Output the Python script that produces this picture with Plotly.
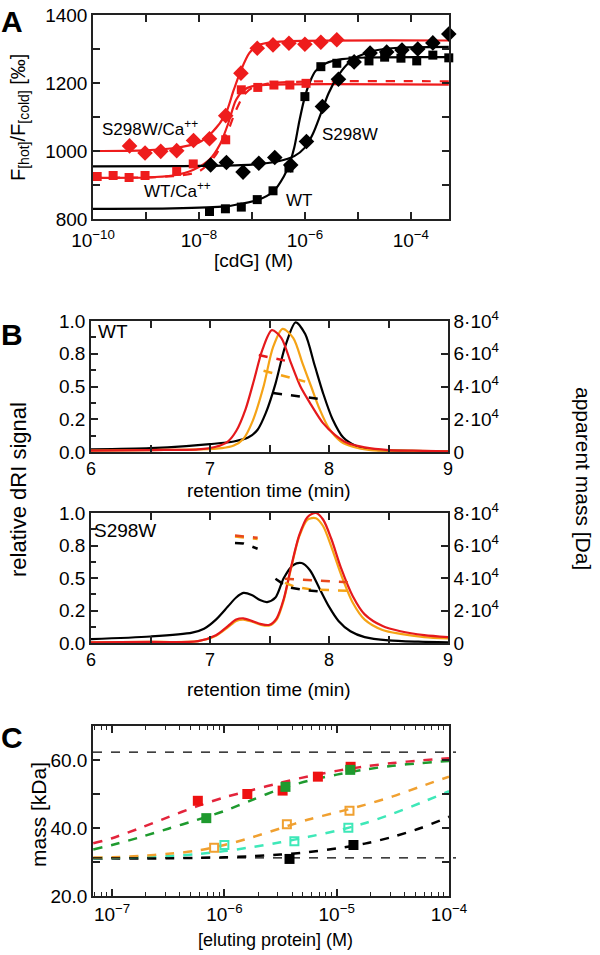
import plotly.graph_objects as go

W, H = 600, 955
def fx(p): return p / W
def fy(p): return 1 - p / H

FONT = "Liberation Sans, Arial, Helvetica, sans-serif"
RED_A = "#ee1c1c"
RED_B = "#e5191c"
ORANGE_B = "#f5a316"
RED_C = "#e3243b"
GREEN_C = "#1e9a2e"
ORANGE_C = "#f0a030"
CYAN_C = "#3ee8b8"

# ---------------- Panel A data ----------------
s298w_ca_conc = [4.9e-10, 9.6e-10, 1.9e-9, 3.8e-9, 7.9e-9, 1.58e-8, 3.2e-8, 6.2e-8, 1.26e-7, 2.5e-7, 5.0e-7, 1.0e-6, 2.0e-6, 4.0e-6]
s298w_ca_val = [1015, 994, 999, 1001, 1031, 1036, 1104, 1229, 1302, 1312, 1317, 1314, 1320, 1327]
wt_ca_conc = [1.2e-10, 2.4e-10, 4.8e-10, 9.6e-10, 3.8e-9, 7.8e-9, 3.2e-8, 6.3e-8, 1.29e-7, 2.6e-7, 5.2e-7, 1.05e-6]
wt_ca_val = [925, 928, 922, 928, 940, 962, 1033, 1180, 1187, 1194, 1194, 1199]
s298w_conc = [1.66e-8, 3.3e-8, 6.8e-8, 1.35e-7, 2.7e-7, 5.4e-7, 1.07e-6, 2.14e-6, 4.3e-6, 8.5e-6, 1.7e-5, 3.5e-5, 6.8e-5, 1.35e-4, 2.6e-4, 5.2e-4]
s298w_val = [959, 966, 938, 964, 981, 959, 1028, 1131, 1211, 1262, 1288, 1291, 1297, 1300, 1318, 1344]
wt_conc = [1.58e-8, 3.16e-8, 6.3e-8, 1.26e-7, 2.5e-7, 5.0e-7, 1.0e-6, 2.0e-6, 4.0e-6, 8.1e-6, 1.62e-5, 3.2e-5, 6.5e-5, 1.29e-4, 2.6e-4, 5.2e-4]
wt_val = [822, 830, 835, 857, 883, 950, 1160, 1248, 1258, 1265, 1265, 1276, 1273, 1265, 1282, 1274]

# fitted curves
fit_s298w_ca_x = [1e-10, 1e-9, 3.2e-9, 1e-8, 1.78e-8, 3.16e-8, 4.5e-8, 6.3e-8, 8.9e-8, 1.26e-7, 2.5e-7, 1e-6, 5.2e-4]
fit_s298w_ca_y = [1000, 1002, 1008, 1025, 1055, 1108, 1178, 1240, 1288, 1310, 1320, 1324, 1325]
fit_wt_ca_x = [1e-10, 1e-9, 3.2e-9, 7.9e-9, 1.58e-8, 2.5e-8, 3.55e-8, 5.0e-8, 7.1e-8, 1e-7, 2.5e-7, 5.2e-4]
fit_wt_ca_y = [921, 922, 928, 945, 975, 1020, 1080, 1150, 1180, 1190, 1195, 1195]
fit_wt_ca2_x = [1e-10, 3.2e-9, 1e-8, 2.0e-8, 3.55e-8, 5.0e-8, 7.1e-8, 1e-7, 2.0e-7, 1e-6, 5.2e-4]
fit_wt_ca2_y = [921, 926, 940, 985, 1060, 1120, 1165, 1185, 1198, 1204, 1205]
fit_wt_x = [1e-10, 3.2e-9, 3.16e-8, 6.3e-8, 1.26e-7, 2.5e-7, 4.0e-7, 5.2e-7, 6.3e-7, 7.9e-7, 1e-6, 1.26e-6, 1.58e-6, 2.5e-6, 5.0e-6, 1.58e-5, 5.2e-4]
fit_wt_y = [830, 831, 837, 845, 855, 880, 925, 965, 1010, 1090, 1160, 1205, 1235, 1258, 1270, 1275, 1276]
fit_s298w_x = [1e-10, 1e-8, 1e-7, 3.16e-7, 6.3e-7, 1e-6, 1.41e-6, 2.0e-6, 2.8e-6, 4.0e-6, 6.3e-6, 1e-5, 2.0e-5, 5.0e-5, 5.2e-4]
fit_s298w_y = [955, 956, 960, 970, 985, 1010, 1050, 1110, 1170, 1215, 1255, 1278, 1295, 1303, 1306]

# ---------------- Panel B data ----------------
wt_black_t = [6.0, 6.5, 6.8, 7.0, 7.2, 7.32, 7.4, 7.47, 7.55, 7.63, 7.72, 7.8, 7.88, 7.95, 8.03, 8.12, 8.22, 8.35, 8.6, 9.0]
wt_black_v = [0.02, 0.03, 0.045, 0.06, 0.08, 0.11, 0.17, 0.30, 0.52, 0.80, 0.99, 0.90, 0.66, 0.45, 0.25, 0.11, 0.05, 0.02, 0.01, 0.005]
wt_red_t = [6.0, 6.5, 6.9, 7.05, 7.15, 7.22, 7.3, 7.37, 7.44, 7.52, 7.6, 7.68, 7.76, 7.85, 7.95, 8.05, 8.15, 8.3, 8.5, 8.7, 9.0]
wt_red_v = [0.01, 0.015, 0.02, 0.04, 0.08, 0.16, 0.33, 0.55, 0.78, 0.93, 0.87, 0.68, 0.50, 0.36, 0.22, 0.13, 0.07, 0.035, 0.015, 0.01, 0.005]
wt_orange_t = [6.0, 6.5, 6.9, 7.1, 7.2, 7.28, 7.36, 7.45, 7.53, 7.61, 7.7, 7.78, 7.85, 7.92, 8.0, 8.1, 8.2, 8.35, 8.6, 9.0]
wt_orange_v = [0.01, 0.015, 0.02, 0.03, 0.05, 0.10, 0.24, 0.50, 0.80, 0.94, 0.87, 0.67, 0.50, 0.33, 0.18, 0.08, 0.04, 0.015, 0.01, 0.005]
wt_red_mass_t = [7.41, 7.52, 7.63]
wt_red_mass = [59200, 57500, 55800]
wt_orange_mass_t = [7.45, 7.62, 7.80]
wt_orange_mass = [49600, 46500, 43000]
wt_black_mass_t = [7.53, 7.72, 7.92]
wt_black_mass = [36000, 34200, 32400]

s_black_t = [6.0, 6.5, 6.85, 6.95, 7.05, 7.15, 7.22, 7.28, 7.35, 7.42, 7.48, 7.55, 7.62, 7.7, 7.77, 7.84, 7.92, 8.0, 8.08, 8.18, 8.3, 8.5, 8.75, 9.0]
s_black_v = [0.03, 0.05, 0.08, 0.11, 0.18, 0.28, 0.35, 0.385, 0.37, 0.33, 0.315, 0.35, 0.50, 0.60, 0.615, 0.56, 0.42, 0.28, 0.17, 0.09, 0.045, 0.02, 0.01, 0.005]
s_red_t = [6.0, 6.5, 6.9, 7.05, 7.15, 7.22, 7.28, 7.35, 7.43, 7.5, 7.56, 7.62, 7.68, 7.75, 7.82, 7.89, 7.95, 8.02, 8.1, 8.2, 8.3, 8.45, 8.6, 8.8, 9.0]
s_red_v = [0.005, 0.008, 0.015, 0.06, 0.13, 0.18, 0.19, 0.17, 0.145, 0.14, 0.19, 0.34, 0.58, 0.83, 0.97, 1.0, 0.95, 0.80, 0.58, 0.36, 0.22, 0.13, 0.09, 0.06, 0.045]
s_orange_v = [0.005, 0.008, 0.015, 0.055, 0.12, 0.17, 0.18, 0.165, 0.14, 0.135, 0.18, 0.33, 0.57, 0.82, 0.95, 0.96, 0.90, 0.74, 0.53, 0.31, 0.18, 0.10, 0.07, 0.045, 0.035]
s_up_orange_t = [7.21, 7.40]
s_up_orange_mass = [65500, 64000]
s_up_red_t = [7.21, 7.40]
s_up_red_mass = [66200, 64700]
s_up_black_t = [7.21, 7.28, 7.33, 7.40]
s_up_black_mass = [61500, 61300, 60000, 58000]
s_lo_red_t = [7.63, 7.9, 8.2]
s_lo_red_mass = [39500, 38500, 37200]
s_lo_orange_t = [7.63, 7.72, 7.85, 8.2]
s_lo_orange_mass = [37000, 34500, 33000, 32000]
s_lo_black_t = [7.55, 7.63, None, 7.68, 7.8, 7.95]
s_lo_black_mass = [39500, 35500, None, 34000, 32500, 31500]

# ---------------- Panel C data ----------------
c_red_conc = [5.8e-7, 1.6e-6, 3.3e-6, 6.8e-6, 1.33e-5]
c_red_mass = [48.0, 50.0, 51.0, 55.1, 58.0]
c_green_conc = [6.9e-7, 3.5e-6, 1.32e-5]
c_green_mass = [42.9, 52.1, 57.1]
c_orange_conc = [8.1e-7, 3.6e-6, 1.3e-5]
c_orange_mass = [34.2, 41.1, 45.1]
c_cyan_conc = [1.0e-6, 4.2e-6, 1.27e-5]
c_cyan_mass = [35.0, 36.1, 40.1]
c_black_conc = [3.8e-6, 1.41e-5]
c_black_mass = [30.9, 35.0]
c_fit_conc = [6.8e-8, 1e-7, 1.78e-7, 3.16e-7, 5.6e-7, 1e-6, 1.78e-6, 3.16e-6, 5.6e-6, 1e-5, 1.78e-5, 3.16e-5, 5.6e-5, 1e-4]
c_fit_red = [35.5, 37.0, 40.0, 43.2, 46.3, 49.0, 51.2, 53.3, 55.2, 56.8, 58.1, 59.1, 59.9, 60.5]
c_fit_green = [33.7, 35.0, 37.3, 39.8, 42.3, 45.0, 48.3, 51.5, 53.9, 55.7, 57.2, 58.3, 59.1, 59.7]
c_fit_orange = [31.3, 31.4, 31.8, 32.4, 33.3, 35.0, 37.3, 39.9, 42.5, 44.6, 46.8, 49.3, 52.2, 55.1]
c_fit_cyan = [31.1, 31.2, 31.4, 31.7, 32.3, 33.2, 34.4, 35.8, 37.4, 39.2, 41.4, 44.2, 47.4, 50.8]
c_fit_black = [31.0, 31.0, 31.0, 31.1, 31.2, 31.4, 31.7, 32.2, 32.9, 34.0, 35.4, 37.4, 40.0, 43.3]
dimer_mass = 62.3
monomer_mass = 31.2

fig = go.Figure()

def line(x, y, color, xa, ya, dash="solid", width=2.2, shape="spline"):
    fig.add_trace(go.Scatter(x=x, y=y, mode="lines", xaxis=xa, yaxis=ya,
                             line=dict(color=color, width=width, dash=dash, shape=shape, smoothing=0.8),
                             showlegend=False, hoverinfo="skip", connectgaps=False))

def pts(x, y, color, xa, ya, symbol, size, open_=False):
    if open_:
        m = dict(symbol=symbol, size=size, color=color, line=dict(color=color, width=2))
    else:
        m = dict(symbol=symbol, size=size, color=color, line=dict(width=0))
    fig.add_trace(go.Scatter(x=x, y=y, mode="markers", xaxis=xa, yaxis=ya, marker=m,
                             showlegend=False, hoverinfo="skip", cliponaxis=False))

# Panel A
line(fit_s298w_ca_x, fit_s298w_ca_y, RED_A, "x", "y")
line(fit_wt_ca2_x, fit_wt_ca2_y, RED_A, "x", "y", dash="dash")
line(fit_wt_ca_x, fit_wt_ca_y, RED_A, "x", "y")
line(fit_wt_x, fit_wt_y, "black", "x", "y")
line(fit_s298w_x, fit_s298w_y, "black", "x", "y")
pts(s298w_ca_conc, s298w_ca_val, RED_A, "x", "y", "diamond", 12)
pts(wt_ca_conc, wt_ca_val, RED_A, "x", "y", "square", 9)
pts(s298w_conc, s298w_val, "black", "x", "y", "diamond", 12)
pts(wt_conc, wt_val, "black", "x", "y", "square", 9)

# Panel B top
line(wt_black_t, wt_black_v, "black", "x2", "y2")
line(wt_orange_t, wt_orange_v, ORANGE_B, "x2", "y2")
line(wt_red_t, wt_red_v, RED_B, "x2", "y2")
line(wt_red_mass_t, wt_red_mass, RED_B, "x2", "y3", dash="dash", width=2.5, shape="linear")
line(wt_orange_mass_t, wt_orange_mass, ORANGE_B, "x2", "y3", dash="dash", width=2.5, shape="linear")
line(wt_black_mass_t, wt_black_mass, "black", "x2", "y3", dash="dash", width=2.5, shape="linear")

# Panel B bottom
line(s_black_t, s_black_v, "black", "x3", "y4")
line(s_red_t, s_orange_v, ORANGE_B, "x3", "y4")
line(s_red_t, s_red_v, RED_B, "x3", "y4")
line(s_up_orange_t, s_up_orange_mass, ORANGE_B, "x3", "y5", dash="dash", width=2.5, shape="linear")
line(s_up_red_t, s_up_red_mass, "#e8481c", "x3", "y5", dash="dash", width=2.5, shape="linear")
line(s_up_black_t, s_up_black_mass, "black", "x3", "y5", dash="dash", width=2.5, shape="linear")
line(s_lo_red_t, s_lo_red_mass, "#e8481c", "x3", "y5", dash="dash", width=2.5, shape="linear")
line(s_lo_orange_t, s_lo_orange_mass, ORANGE_B, "x3", "y5", dash="dash", width=2.5, shape="linear")
line(s_lo_black_t, s_lo_black_mass, "black", "x3", "y5", dash="dash", width=2.5, shape="linear")

# Panel C
for yv in (dimer_mass, monomer_mass):
    fig.add_shape(type="line", xref="paper", yref="y6", x0=fx(93), x1=fx(456), y0=yv, y1=yv,
                  line=dict(color="black", width=1.2, dash="dash"))
line(c_fit_conc, c_fit_black, "black", "x4", "y6", dash="dash", width=2.5)
line(c_fit_conc, c_fit_cyan, CYAN_C, "x4", "y6", dash="dash", width=2.5)
line(c_fit_conc, c_fit_orange, ORANGE_C, "x4", "y6", dash="dash", width=2.5)
line(c_fit_conc, c_fit_green, GREEN_C, "x4", "y6", dash="dash", width=2.5)
line(c_fit_conc, c_fit_red, RED_C, "x4", "y6", dash="dash", width=2.5)
pts(c_red_conc, c_red_mass, "#ee1111", "x4", "y6", "square", 10)
pts(c_green_conc, c_green_mass, GREEN_C, "x4", "y6", "square", 10)
pts(c_orange_conc, c_orange_mass, ORANGE_C, "x4", "y6", "square-open", 8, True)
pts(c_cyan_conc, c_cyan_mass, CYAN_C, "x4", "y6", "square-open", 8, True)
pts(c_black_conc, c_black_mass, "black", "x4", "y6", "square", 10)

tickfont = dict(family=FONT, size=19, color="black")
common = dict(showline=True, linecolor="#222", linewidth=1.5, ticks="inside", tickcolor="#222",
              tickwidth=1.5, ticklen=7, showgrid=False, zeroline=False, tickfont=tickfont,
              automargin=False)
common_b = dict(common, tickfont=dict(family=FONT, size=18, color="black"))

decades_A = [1e-10, 1e-9, 1e-8, 1e-7, 1e-6, 1e-5, 1e-4]
decades_A_text = ["10<sup>−10</sup>", "", "10<sup>−8</sup>", "", "10<sup>−6</sup>", "", "10<sup>−4</sup>"]
decades_C = [1e-7, 1e-6, 1e-5, 1e-4]
decades_C_text = ["10<sup>−7</sup>", "10<sup>−6</sup>", "10<sup>−5</sup>", "10<sup>−4</sup>"]
minor_C = [m * d for d in [1e-8, 1e-7, 1e-6, 1e-5] for m in range(2, 10)]
mass_ticks = [0, 20000, 40000, 60000, 80000]
mass_text = ["0", "2·10<sup>4</sup>", "4·10<sup>4</sup>", "6·10<sup>4</sup>", "8·10<sup>4</sup>"]
dri_ticks = [0, 0.25, 0.5, 0.75, 1.0]
dri_text = ["0.0", "0.2", "0.5", "0.8", "1.0"]

fig.update_layout(
    width=W, height=H, margin=dict(l=0, r=0, t=0, b=0, autoexpand=False),
    paper_bgcolor="white", plot_bgcolor="white", showlegend=False,
    font=dict(family=FONT, color="black"),
    xaxis=dict(**common, domain=[fx(93), fx(449)], anchor="y", type="log", range=[-10, -3.28],
               tickmode="array", tickvals=decades_A, ticktext=decades_A_text, mirror="ticks",
               ticklabelstandoff=3),
    yaxis=dict(**common, domain=[fy(219), fy(15)], anchor="x", range=[800, 1400], dtick=200,
               mirror="ticks", minor=dict(dtick=100, ticks="inside", ticklen=7, tickcolor="#222", tickwidth=1.5)),
    xaxis2=dict(**common_b, domain=[fx(91), fx(448)], anchor="y2", range=[6, 9], dtick=1, mirror="ticks",
                minor=dict(dtick=0.5, ticks="inside", ticklen=7, tickcolor="#222", tickwidth=1.5)),
    yaxis2=dict(**common, domain=[fy(452), fy(321)], anchor="x2", range=[0, 1], tickmode="array",
                tickvals=dri_ticks, ticktext=dri_text,
                minor=dict(dtick=0.125, ticks="inside", ticklen=5, tickcolor="#222", tickwidth=1.5)),
    yaxis3=dict(**common, overlaying="y2", anchor="x2", side="right", range=[0, 80000], tickmode="array",
                tickvals=mass_ticks, ticktext=mass_text),
    xaxis3=dict(**common_b, domain=[fx(91), fx(448)], anchor="y4", range=[6, 9], dtick=1, mirror="ticks",
                minor=dict(dtick=0.5, ticks="inside", ticklen=7, tickcolor="#222", tickwidth=1.5)),
    yaxis4=dict(**common, domain=[fy(643), fy(513)], anchor="x3", range=[0, 1], tickmode="array",
                tickvals=dri_ticks, ticktext=dri_text,
                minor=dict(dtick=0.125, ticks="inside", ticklen=5, tickcolor="#222", tickwidth=1.5)),
    yaxis5=dict(**common, overlaying="y4", anchor="x3", side="right", range=[0, 80000], tickmode="array",
                tickvals=mass_ticks, ticktext=mass_text),
    xaxis4=dict(**common, domain=[fx(93), fx(449)], anchor="y6", type="log", range=[-7.17, -4],
                tickmode="array", tickvals=decades_C, ticktext=decades_C_text, mirror="ticks",
                minor=dict(tickvals=minor_C, ticks="inside", ticklen=4, tickcolor="#222", tickwidth=1.2)),
    yaxis6=dict(**common, domain=[fy(896), fy(726)], anchor="x4", range=[20, 70], tickmode="array",
                tickvals=[20, 40, 60], ticktext=["20.0", "40.0", "60.0"], mirror="ticks",
                minor=dict(dtick=10, ticks="inside", ticklen=7, tickcolor="#222", tickwidth=1.5)),
)

def ann(text, x, y, size=18, angle=0, bold=False, xanchor="center"):
    fig.add_annotation(text=("<b>%s</b>" % text) if bold else text, x=fx(x), y=fy(y),
                       xref="paper", yref="paper", showarrow=False, textangle=angle,
                       xanchor=xanchor, yanchor="middle",
                       font=dict(family=FONT, size=size, color="black"))

ann("A", 12, 22, size=30, bold=True)
ann("B", 12, 334, size=30, bold=True)
ann("C", 12, 737, size=30, bold=True)

ann("F<sub>[hot]</sub>/F<sub>[cold]</sub> [‰]", 20, 118, size=20, angle=-90)
ann("[cdG] (M)", 253, 260, size=19)
ann("S298W/Ca<sup>++</sup>", 150, 128, size=17)
ann("WT/Ca<sup>++</sup>", 177, 190, size=17)
ann("WT", 299, 201, size=17)
ann("S298W", 350, 135, size=17)

ann("WT", 113, 332, size=19)
ann("S298W", 125, 530, size=19)
ann("retention time (min)", 269, 490, size=19)
ann("retention time (min)", 269, 689, size=19)
ann("relative dRI signal", 18, 490, size=22, angle=-90)
ann("apparent mass [Da]", 584, 478, size=21, angle=90)

ann("mass [kDa]", 38, 815, size=21, angle=-90)
ann("[eluting protein] (M)", 275, 940, size=18)

fig.write_html("out.html", config={"displayModeBar": False},
               post_script="document.body.style.margin='0px';document.body.style.overflow='hidden';")
